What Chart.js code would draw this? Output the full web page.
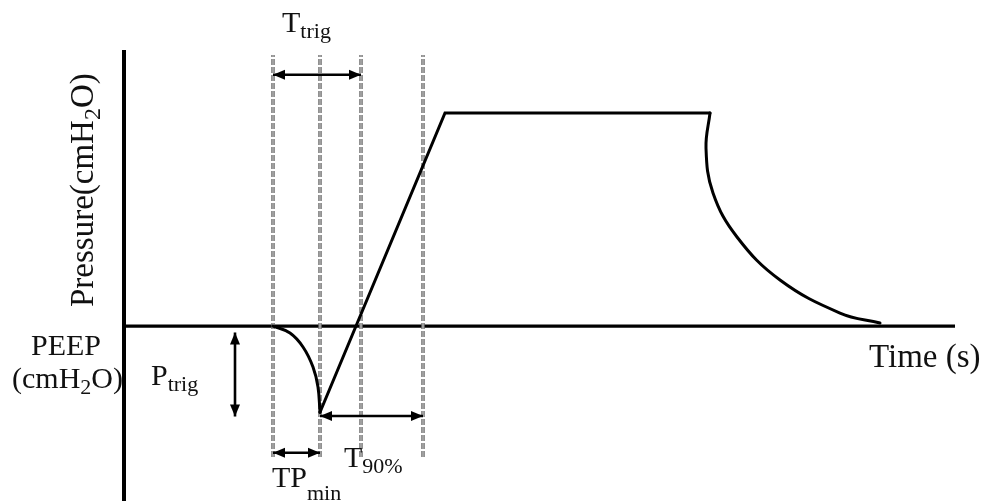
<!DOCTYPE html>
<html>
<head>
<meta charset="utf-8">
<script src="https://cdn.jsdelivr.net/npm/chart.js@4.4.1/dist/chart.umd.min.js"></script>
<style>
  html, body { margin: 0; padding: 0; background: #fff; overflow: hidden; }
  #wrap { width: 985px; height: 501px; position: relative; }
</style>
</head>
<body>
<div id="wrap"><canvas id="chart"></canvas></div>
<script>
// Airway pressure over one triggered breath.
// Time in s, pressure in cmH2O relative to PEEP (PEEP = 0).
const triggerTime      = [1.48, 1.65, 1.78, 1.88, 1.93, 1.95];
const triggerPressure  = [0, -0.66, -1.97, -3.85, -5.73, -8.1];
const rampTime         = [1.95, 3.20, 5.85];
const rampPressure     = [-8.1, 20, 20];
const releaseTime      = [5.85, 5.81, 5.88, 6.12, 6.55, 7.15, 7.55];
const releasePressure  = [20, 16.7, 12.5, 8.36, 4.32, 1.22, 0.28];

// Event times: trigger onset, pressure minimum, back to PEEP, 90 % of target
const eventTimes  = [1.48, 1.95, 2.36, 2.98];
const eventSpan   = [-12.3, 25.45];

// Interval arrows
const tTrigSpan   = [1.48, 2.36], tTrigLevel = 23.6;
const tpMinSpan   = [1.48, 1.95], tpMinLevel = -11.9;
const t90Span     = [1.95, 2.98], t90Level   = -8.45;
const pTrigSpan   = [-0.6, -8.5], pTrigTime  = 1.10;

const xRange = [0, 8.3];
const yRange = [-16.43, 25.92];

const SERIF = '"Liberation Serif", "Times New Roman", serif';

const pts = (xs, ys) => xs.map((x, i) => ({ x, y: ys[i] }));

const curve = (xs, ys, tension) => ({
  data: pts(xs, ys), borderColor: '#000', borderWidth: 3, tension,
  borderCapStyle: 'round', borderJoinStyle: 'miter', pointRadius: 0, order: 0
});
const arrowH = (span, level) => ({
  data: [{ x: span[0], y: level }, { x: span[1], y: level }], arrow: true,
  borderColor: '#000', borderWidth: 2.6, pointRadius: 0, order: 1
});
const arrowV = (span, t) => ({
  data: [{ x: t, y: span[0] }, { x: t, y: span[1] }], arrow: true,
  borderColor: '#000', borderWidth: 2.6, pointRadius: 0, order: 1
});

const datasets = [
  curve(triggerTime, triggerPressure, 0.4),
  curve(rampTime, rampPressure, 0),
  curve(releaseTime, releasePressure, 0.4),
  arrowH(tTrigSpan, tTrigLevel),
  arrowH(tpMinSpan, tpMinLevel),
  arrowH(t90Span, t90Level),
  arrowV(pTrigSpan, pTrigTime)
];
// dashed event markers, drawn as a grey stripe with a light core
eventTimes.forEach(t => {
  datasets.push({
    data: [{ x: t, y: eventSpan[0] }, { x: t, y: eventSpan[1] }],
    borderColor: '#6e6e6e', borderWidth: 3.5, borderDash: [6, 2],
    pointRadius: 0, order: 3
  });
  datasets.push({
    data: [{ x: t, y: eventSpan[0] }, { x: t, y: eventSpan[1] }],
    borderColor: '#d0d0d0', borderWidth: 1, borderDash: [6, 2],
    pointRadius: 0, order: 2
  });
});

// Draws text runs with subscripts: [text, size, baselineShift]
function runs(ctx, parts, x, y) {
  parts.forEach(([text, size, dy]) => {
    ctx.font = size + 'px ' + SERIF;
    ctx.fillText(text, x, y + (dy || 0));
    x += ctx.measureText(text).width;
  });
}

const diagramPlugin = {
  id: 'diagram',
  beforeDatasetsDraw(chart) {
    const { ctx, chartArea, scales } = chart;
    const y0 = scales.y.getPixelForValue(0);
    ctx.save();
    ctx.strokeStyle = '#000';
    ctx.lineCap = 'butt';
    // pressure axis
    ctx.lineWidth = 4;
    ctx.beginPath();
    ctx.moveTo(chartArea.left - 1, chartArea.top);
    ctx.lineTo(chartArea.left - 1, chartArea.bottom);
    ctx.stroke();
    // PEEP baseline / time axis
    ctx.lineWidth = 3.2;
    ctx.beginPath();
    ctx.moveTo(chartArea.left - 3, y0);
    ctx.lineTo(chartArea.right, y0);
    ctx.stroke();
    ctx.restore();
  },
  afterDatasetsDraw(chart) {
    const { ctx } = chart;
    ctx.save();
    ctx.fillStyle = '#000';
    chart.data.datasets.forEach((ds, i) => {
      if (!ds.arrow) return;
      const p = chart.getDatasetMeta(i).data;
      const a = p[0], b = p[1];
      const head = (tip, from) => {
        const ang = Math.atan2(tip.y - from.y, tip.x - from.x);
        const L = 12, W = 5;
        ctx.beginPath();
        ctx.moveTo(tip.x, tip.y);
        ctx.lineTo(tip.x - L * Math.cos(ang) + W * Math.sin(ang), tip.y - L * Math.sin(ang) - W * Math.cos(ang));
        ctx.lineTo(tip.x - L * Math.cos(ang) - W * Math.sin(ang), tip.y - L * Math.sin(ang) + W * Math.cos(ang));
        ctx.closePath();
        ctx.fill();
      };
      head(a, b);
      head(b, a);
    });
    ctx.restore();
  },
  afterDraw(chart) {
    const { ctx } = chart;
    ctx.save();
    ctx.fillStyle = '#111';
    ctx.textBaseline = 'alphabetic';
    ctx.textAlign = 'left';

    runs(ctx, [['T', 30], ['trig', 22, 6]], 282, 32);
    runs(ctx, [['P', 30], ['trig', 22, 6]], 151, 385);
    runs(ctx, [['TP', 30], ['min', 22, 13]], 272, 487);
    runs(ctx, [['T', 30], ['90%', 22, 6]], 344, 467);

    // PEEP label
    ctx.font = '30px ' + SERIF;
    ctx.textAlign = 'center';
    ctx.fillText('PEEP', 66, 355);
    ctx.textAlign = 'left';
    runs(ctx, [['(cmH', 30], ['2', 22, 6], ['O)', 30]], 12, 388);

    runs(ctx, [['Time (s)', 33]], 869, 367);

    // vertical axis title
    ctx.translate(92.5, 307);
    ctx.rotate(-Math.PI / 2);
    runs(ctx, [['Pressure(cmH', 33], ['2', 24, 7], ['O)', 33]], 0, 0);
    ctx.restore();
  }
};

new Chart(document.getElementById('chart'), {
  type: 'line',
  data: { datasets },
  options: {
    responsive: true,
    maintainAspectRatio: false,
    animation: false,
    events: [],
    layout: { padding: { left: 125, right: 30, top: 50, bottom: 0 } },
    plugins: { legend: { display: false }, tooltip: { enabled: false } },
    scales: {
      x: { type: 'linear', min: xRange[0], max: xRange[1], display: false },
      y: { type: 'linear', min: yRange[0], max: yRange[1], display: false }
    }
  },
  plugins: [diagramPlugin]
});
</script>
</body>
</html>
